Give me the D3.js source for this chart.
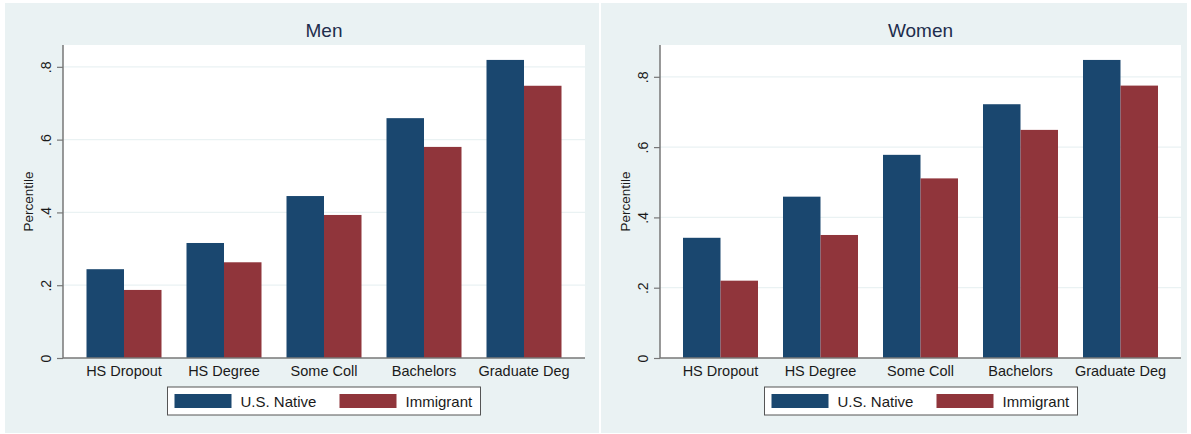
<!DOCTYPE html>
<html><head><meta charset="utf-8">
<script src="https://cdn.jsdelivr.net/npm/d3@7"></script>
<style>body{margin:0;background:#fff;} svg{display:block;font-family:"Liberation Sans",Arial,sans-serif;}</style>
</head><body>
<script>
const categories = ["HS Dropout","HS Degree","Some Coll","Bachelors","Graduate Deg"];
const seriesNames = ["U.S. Native","Immigrant"];
const menNative = [0.244,0.316,0.445,0.659,0.819];
const menImmigrant = [0.187,0.263,0.393,0.580,0.748];
const womenNative = [0.342,0.459,0.578,0.722,0.848];
const womenImmigrant = [0.220,0.350,0.511,0.649,0.775];
const yTicks = [0,0.2,0.4,0.6,0.8];
const yTickLabels = ["0",".2",".4",".6",".8"];
const colors = ["#1a476f","#90353b"];

const W=1191,H=434;
const svg=d3.select("body").append("svg").attr("width",W).attr("height",H);

function panel(cfg){
  const g=svg.append("g");
  g.append("rect").attr("x",cfg.bx).attr("y",3).attr("width",cfg.bw).attr("height",430).attr("fill","#eaf2f3");
  const x0=cfg.px0,x1=cfg.px1,top=45,bottom=358;
  g.append("rect").attr("x",x0).attr("y",top).attr("width",x1-x0).attr("height",bottom-top).attr("fill","#fff");
  const y=d3.scaleLinear().domain([0,cfg.ymax]).range([bottom,top]);
  const cx=(x0+x1)/2;
  const xb=d3.scaleBand().domain(categories).range([cx-250,cx+250]).paddingInner(0.25).paddingOuter(0.125);
  const xs=d3.scaleBand().domain(seriesNames).range([0,xb.bandwidth()]);
  g.selectAll(".grid").data(yTicks.slice(1)).enter().append("line")
    .attr("x1",x0).attr("x2",x1).attr("y1",d=>y(d)).attr("y2",d=>y(d))
    .attr("stroke","#eaf2f3").attr("stroke-width",1.2);
  const vals=[cfg.native,cfg.imm];
  seriesNames.forEach((s,si)=>{
    g.selectAll(".b"+si).data(categories).enter().append("rect")
      .attr("x",c=>xb(c)+xs(s)).attr("width",xs.bandwidth())
      .attr("y",(c,i)=>y(vals[si][i])).attr("height",(c,i)=>bottom-y(vals[si][i]))
      .attr("fill",colors[si]);
  });
  const ya=g.append("g").attr("transform",`translate(${x0},0)`)
    .call(d3.axisLeft(y).tickValues(yTicks).tickFormat((d,i)=>yTickLabels[i]).tickSize(6).tickPadding(4));
  ya.select(".domain").remove();
  ya.append("line").attr("x1",0).attr("x2",0).attr("y1",top).attr("y2",bottom).attr("stroke","#777").attr("stroke-width",1.5);
  ya.selectAll(".tick line").attr("stroke","#777").attr("stroke-width",1.2);
  ya.selectAll(".tick text").attr("fill","#1a1a1a").style("font-size","14px")
    .attr("transform","rotate(-90)").attr("x",0).attr("y",-12).attr("dy","0").attr("text-anchor","middle");
  g.append("line").attr("x1",x0).attr("x2",x1).attr("y1",bottom).attr("y2",bottom).attr("stroke","#777").attr("stroke-width",1.5);
  const xa=g.append("g").attr("transform",`translate(0,${bottom})`).call(d3.axisBottom(xb).tickSize(0).tickPadding(8));
  xa.select(".domain").remove();
  xa.selectAll(".tick text").attr("fill","#1a1a1a").style("font-size","14.5px").attr("dy","0.71em");
  g.append("text").attr("x",cx).attr("y",37).attr("text-anchor","middle").attr("fill","#1e2d4d").style("font-size","19px").text(cfg.title);
  g.append("text").attr("transform",`translate(${cfg.ylx},${(top+bottom)/2}) rotate(-90)`).attr("text-anchor","middle")
    .attr("fill","#1a1a1a").style("font-size","13.5px").text("Percentile");
  const lx=cfg.lx, ly=387;
  g.append("rect").attr("x",lx).attr("y",ly).attr("width",313).attr("height",28).attr("fill","#fff").attr("stroke","#555").attr("stroke-width",1);
  const offs=[[7,73],[172,238]];
  seriesNames.forEach((s,si)=>{
    g.append("rect").attr("x",lx+offs[si][0]).attr("y",ly+7).attr("width",57).attr("height",14).attr("fill",colors[si]);
    g.append("text").attr("x",lx+offs[si][1]).attr("y",ly+20).attr("fill","#1a1a1a").style("font-size","15px").text(s);
  });
}
panel({title:"Men",bx:5,bw:594,px0:63,px1:585,ymax:0.86,native:menNative,imm:menImmigrant,ylx:33,lx:167.5});
panel({title:"Women",bx:601,bw:586,px0:660,px1:1181,ymax:0.8905,native:womenNative,imm:womenImmigrant,ylx:630,lx:764.5});
</script>
</body></html>
